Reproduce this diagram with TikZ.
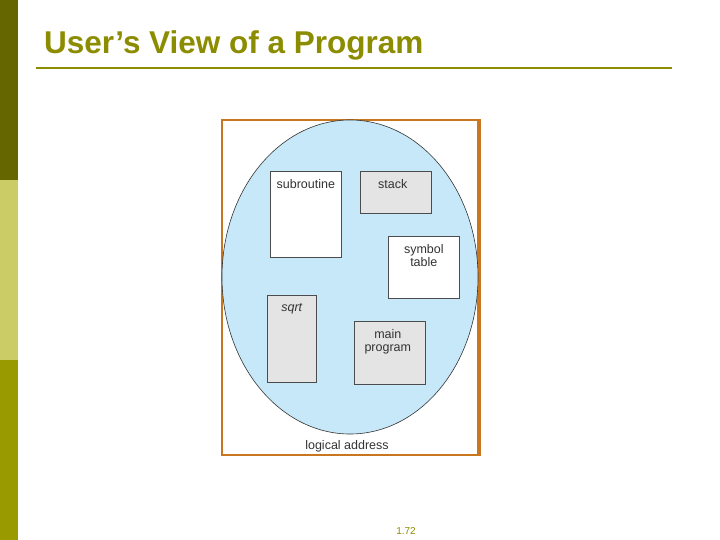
\documentclass[tikz,border=0pt]{standalone}
\usepackage{fontspec}
\setmainfont{Liberation Sans}
\definecolor{olA}{HTML}{666600}
\definecolor{olB}{HTML}{CCCC66}
\definecolor{olC}{HTML}{999900}
\definecolor{titlec}{HTML}{8C8C00}
\definecolor{frame}{HTML}{C8771E}
\definecolor{sky}{HTML}{C6E8F8}
\definecolor{boxg}{HTML}{E4E4E4}
\tikzset{seg/.style={draw=black!70,line width=0.6pt,anchor=north west,inner sep=0pt,align=center},
lbl/.style={font=\fontsize{12.5}{13.5}\selectfont,text=black!80,align=center,inner sep=0pt}}
\begin{document}
\begin{tikzpicture}[x=1pt,y=-1pt]
\useasboundingbox (0,0) rectangle (720,540);
\fill[olA] (0,0) rectangle (18,180);
\fill[olB] (0,180) rectangle (18,360);
\fill[olC] (0,360) rectangle (18,540);
\node[anchor=west,text=titlec,font=\bfseries\fontsize{31.5}{34}\selectfont,inner sep=0pt] (title) at (44,45) {User’s View of a Program};
\draw[titlec,line width=1.2pt] (36,68) -- (672,68);
\draw[frame,line width=1.5pt] (222,120) rectangle (480,455);
\draw[frame,line width=3pt] (478.5,120) -- (478.5,455);
\draw[fill=sky,draw=black!80,line width=0.6pt] (350,277) ellipse [x radius=128,y radius=157];
\node[seg,fill=white,minimum width=71pt,minimum height=86pt] (sub) at (270,171) {};
\node[lbl,anchor=north] at ([yshift=-8pt]sub.north) {subroutine};
\node[seg,fill=boxg,minimum width=71pt,minimum height=42pt] (stk) at (360,171) {};
\node[lbl,anchor=north] at ([xshift=-3pt,yshift=-8pt]stk.north) {stack};
\node[seg,fill=white,minimum width=71pt,minimum height=62pt] (sym) at (388,236) {};
\node[lbl,anchor=north] at ([yshift=-8pt]sym.north) {symbol\\table};
\node[seg,fill=boxg,minimum width=49pt,minimum height=87pt] (sq) at (267,295) {};
\node[lbl,anchor=north,font=\itshape\fontsize{12.5}{13.5}\selectfont] at ([yshift=-8pt]sq.north) {sqrt};
\node[seg,fill=boxg,minimum width=71pt,minimum height=63pt] (mp) at (354,321) {};
\node[lbl,anchor=north] at ([xshift=-2pt,yshift=-8pt]mp.north) {main\\program};
\node[lbl] (la) at (347,446) {logical address};
\node[text=titlec,font=\fontsize{10}{11}\selectfont,inner sep=0pt] (pg) at (406,531) {1.72};
\end{tikzpicture}
\end{document}
